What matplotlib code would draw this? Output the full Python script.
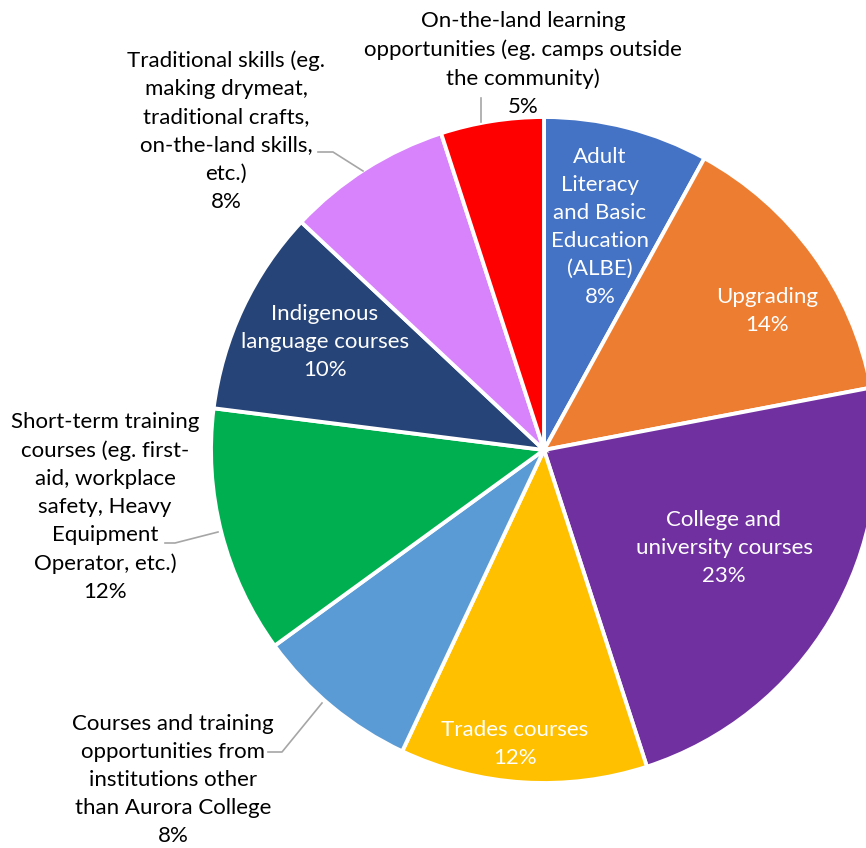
import numpy as np
import matplotlib
matplotlib.use('Agg')
import matplotlib.pyplot as plt

categories = [
    "Adult\nLiteracy\nand Basic\nEducation\n(ALBE)",
    "Upgrading",
    "College and\nuniversity courses",
    "Trades courses",
    "Courses and training\nopportunities from\ninstitutions other\nthan Aurora College",
    "Short-term training\ncourses (eg. first-\naid, workplace\nsafety, Heavy\nEquipment\nOperator, etc.)",
    "Indigenous\nlanguage courses",
    "Traditional skills (eg.\nmaking drymeat,\ntraditional crafts,\non-the-land skills,\netc.)",
    "On-the-land learning\nopportunities (eg. camps outside\nthe community)",
]
shares = [8, 14, 23, 12, 8, 12, 10, 8, 5]
colors = ["#4472C4", "#ED7D31", "#7030A0", "#FFC000", "#5B9BD5",
          "#00B050", "#264478", "#D883FC", "#FF0000"]

# label placement in pixel coords (y measured from the top), inside flag
label_pos = [(600, 227, True), (767, 311, True), (724, 548, True),
             (515, 744, True), (173, 780, False), (105, 507, False),
             (325, 342, True), (226, 131, False), (523, 64, False)]
# leader lines for the outside labels
leaders = [
    [(268, 752), (282, 752), (322, 703)],
    [(165, 543), (175, 543), (218, 532)],
    [(318, 152), (333, 152), (363, 171)],
    [(481, 98), (481, 122)],
]

W, H = 866, 848
fig = plt.figure(figsize=(W / 100, H / 100), dpi=100)
ax = fig.add_axes([0, 0, 1, 1])

cx, cy, r = 544, H - 450, 333
ax.pie(shares, colors=colors, startangle=90, counterclock=False,
       center=(cx, cy), radius=r,
       wedgeprops=dict(edgecolor='white', linewidth=2.8))
ax.set_xlim(0, W)
ax.set_ylim(0, H)
ax.set_aspect('equal')
ax.axis('off')

for name, val, (x, y, inside) in zip(categories, shares, label_pos):
    ax.text(x, H - y, f"{name}\n{val}%", ha='center', va='center',
            fontsize=16, family='Lato', linespacing=1.51,
            color='white' if inside else 'black')

for pts in leaders:
    xs = [p[0] for p in pts]
    ys = [H - p[1] for p in pts]
    ax.plot(xs, ys, color='#A6A6A6', linewidth=1.2)

plt.savefig("out.png", dpi=100)
plt.close()
